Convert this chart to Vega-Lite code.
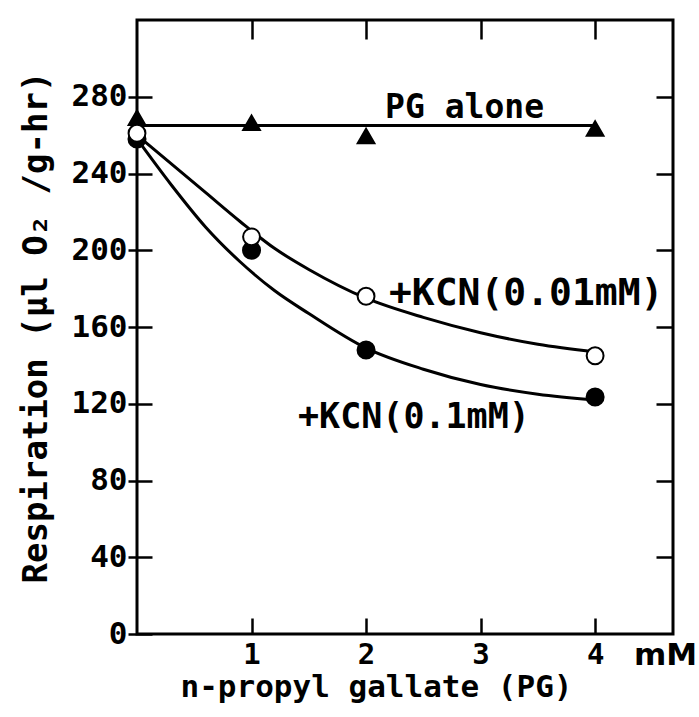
{
  "$schema": "https://vega.github.io/schema/vega-lite/v6.json",
  "width": 536,
  "height": 614,
  "autosize": "none",
  "padding": {"left": 137, "top": 20, "right": 26, "bottom": 83},
  "background": "white",
  "config": {
    "view": {"stroke": "black", "strokeWidth": 3},
    "axis": {
      "grid": false,
      "domain": false,
      "tickColor": "black",
      "tickWidth": 2.5,
      "labelColor": "black",
      "labelFont": "DejaVu Sans Mono",
      "labelFontSize": 31,
      "labelFontWeight": "bold",
      "titleFont": "DejaVu Sans Mono",
      "titleColor": "black",
      "titleFontWeight": "bold"
    }
  },
  "datasets": {
    "fits": [
      {"series": "PG alone", "pg": 0, "resp": 265},
      {"series": "PG alone", "pg": 4, "resp": 265},
      {"series": "KCN 0.01", "pg": 0, "resp": 260},
      {"series": "KCN 0.01", "pg": 0.3, "resp": 245},
      {"series": "KCN 0.01", "pg": 0.6, "resp": 230},
      {"series": "KCN 0.01", "pg": 0.9, "resp": 215},
      {"series": "KCN 0.01", "pg": 1.2, "resp": 201},
      {"series": "KCN 0.01", "pg": 1.5, "resp": 190},
      {"series": "KCN 0.01", "pg": 2, "resp": 175},
      {"series": "KCN 0.01", "pg": 2.5, "resp": 165},
      {"series": "KCN 0.01", "pg": 3, "resp": 157},
      {"series": "KCN 0.01", "pg": 3.5, "resp": 151},
      {"series": "KCN 0.01", "pg": 4, "resp": 147},
      {"series": "KCN 0.1", "pg": 0, "resp": 258},
      {"series": "KCN 0.1", "pg": 0.3, "resp": 234},
      {"series": "KCN 0.1", "pg": 0.6, "resp": 212},
      {"series": "KCN 0.1", "pg": 0.9, "resp": 194},
      {"series": "KCN 0.1", "pg": 1.2, "resp": 179},
      {"series": "KCN 0.1", "pg": 1.5, "resp": 167},
      {"series": "KCN 0.1", "pg": 2, "resp": 149},
      {"series": "KCN 0.1", "pg": 2.5, "resp": 138},
      {"series": "KCN 0.1", "pg": 3, "resp": 130},
      {"series": "KCN 0.1", "pg": 3.5, "resp": 125},
      {"series": "KCN 0.1", "pg": 4, "resp": 122}
    ],
    "points": [
      {"series": "PG alone", "pg": 0, "resp": 269},
      {"series": "PG alone", "pg": 1, "resp": 266.5},
      {"series": "PG alone", "pg": 2, "resp": 259.5},
      {"series": "PG alone", "pg": 4, "resp": 263.5},
      {"series": "KCN 0.1", "pg": 0, "resp": 258},
      {"series": "KCN 0.1", "pg": 1, "resp": 200},
      {"series": "KCN 0.1", "pg": 2, "resp": 148},
      {"series": "KCN 0.1", "pg": 4, "resp": 123.5},
      {"series": "KCN 0.01", "pg": 0, "resp": 261},
      {"series": "KCN 0.01", "pg": 1, "resp": 207},
      {"series": "KCN 0.01", "pg": 2, "resp": 176},
      {"series": "KCN 0.01", "pg": 4, "resp": 145}
    ],
    "labels": [
      {"label": "PG alone", "pg": 2.166, "resp": 269},
      {"label": "+KCN(0.01mM)", "pg": 2.2, "resp": 171.4},
      {"label": "+KCN(0.1mM)", "pg": 1.406, "resp": 107.2},
      {"label": "mM", "pg": 4.615, "resp": 0}
    ]
  },
  "layer": [
    {
      "data": {"name": "fits"},
      "mark": {"type": "line", "interpolate": "monotone", "color": "black", "strokeWidth": 3},
      "encoding": {
        "x": {
          "field": "pg", "type": "quantitative",
          "scale": {"domain": [0, 4.68], "nice": false, "zero": false},
          "axis": {
            "orient": "bottom", "values": [1, 2, 3, 4], "tickSize": -16,
            "labelPadding": 22, "labelBaseline": "top", "labelFontSize": 29,
            "title": "n-propyl gallate (PG)", "titleFontSize": 31,
            "titlePadding": 3, "titleX": 239, "titleAnchor": "middle"
          }
        },
        "y": {
          "field": "resp", "type": "quantitative",
          "scale": {"domain": [0, 320], "nice": false},
          "axis": {
            "orient": "left", "values": [0, 40, 80, 120, 160, 200, 240, 280],
            "offset": -15, "tickSize": 24, "labelPadding": 1,
            "title": "Respiration (μl O₂ /g-hr)", "titleFontSize": 34,
            "titlePadding": 18
          }
        },
        "detail": {"field": "series"}
      }
    },
    {
      "data": {"name": "points"},
      "mark": {"type": "point", "filled": true, "stroke": "black", "strokeWidth": 2, "opacity": 1},
      "encoding": {
        "x": {
          "field": "pg", "type": "quantitative",
          "axis": {"orient": "top", "values": [1, 2, 3, 4], "tickSize": -19, "labels": false, "title": null}
        },
        "y": {
          "field": "resp", "type": "quantitative",
          "axis": {"orient": "right", "values": [40, 80, 120, 160, 200, 240, 280], "tickSize": -17, "labels": false, "title": null}
        },
        "shape": {
          "field": "series", "type": "nominal",
          "scale": {"domain": ["PG alone", "KCN 0.01", "KCN 0.1"], "range": ["triangle-up", "circle", "circle"]},
          "legend": null
        },
        "fill": {
          "field": "series", "type": "nominal",
          "scale": {"domain": ["PG alone", "KCN 0.01", "KCN 0.1"], "range": ["black", "white", "black"]},
          "legend": null
        },
        "size": {
          "field": "series", "type": "nominal",
          "scale": {"domain": ["PG alone", "KCN 0.01", "KCN 0.1"], "range": [280, 290, 330]},
          "legend": null
        }
      }
    },
    {
      "data": {"name": "labels"},
      "transform": [{"filter": "datum.label === 'PG alone'"}],
      "mark": {"type": "text", "font": "DejaVu Sans Mono", "fontSize": 33, "fontWeight": "bold", "align": "left", "baseline": "alphabetic", "color": "black"},
      "encoding": {
        "x": {"field": "pg", "type": "quantitative", "axis": null},
        "y": {"field": "resp", "type": "quantitative", "axis": null},
        "text": {"field": "label"}
      }
    },
    {
      "data": {"name": "labels"},
      "transform": [{"filter": "datum.label === '+KCN(0.01mM)'"}],
      "mark": {"type": "text", "font": "DejaVu Sans Mono", "fontSize": 38, "fontWeight": "bold", "align": "left", "baseline": "alphabetic", "color": "black"},
      "encoding": {
        "x": {"field": "pg", "type": "quantitative", "axis": null},
        "y": {"field": "resp", "type": "quantitative", "axis": null},
        "text": {"field": "label"}
      }
    },
    {
      "data": {"name": "labels"},
      "transform": [{"filter": "datum.label === '+KCN(0.1mM)'"}],
      "mark": {"type": "text", "font": "DejaVu Sans Mono", "fontSize": 35, "fontWeight": "bold", "align": "left", "baseline": "alphabetic", "color": "black"},
      "encoding": {
        "x": {"field": "pg", "type": "quantitative", "axis": null},
        "y": {"field": "resp", "type": "quantitative", "axis": null},
        "text": {"field": "label"}
      }
    },
    {
      "data": {"name": "labels"},
      "transform": [{"filter": "datum.label === 'mM'"}],
      "mark": {"type": "text", "font": "DejaVu Sans", "fontSize": 31, "fontWeight": "bold", "align": "center", "baseline": "top", "dy": 7, "clip": false, "color": "black"},
      "encoding": {
        "x": {"field": "pg", "type": "quantitative", "axis": null},
        "y": {"field": "resp", "type": "quantitative", "axis": null},
        "text": {"field": "label"}
      }
    }
  ],
  "resolve": {"axis": {"x": "independent", "y": "independent"}}
}
